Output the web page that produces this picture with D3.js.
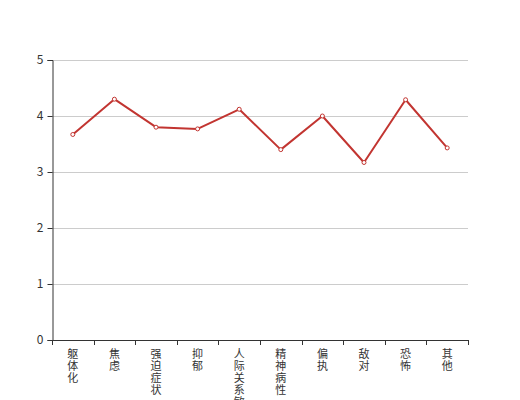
<!DOCTYPE html>
<html>
  <head>
    <meta charset="utf-8" />
    <script src="https://d3js.org/d3.v7.min.js"></script>
    <style>
      body { margin: 0; background: #fff; }
      text { font-family: "Noto Sans CJK SC", "Noto Sans", sans-serif; }
    </style>
  </head>
  <body>
    <script>
      // data
      const categories = ["躯体化", "焦虑", "强迫症状", "抑郁", "人际关系敏感", "精神病性", "偏执", "敌对", "恐怖", "其他"];
      const scores = [3.67, 4.30, 3.80, 3.77, 4.12, 3.40, 4.00, 3.17, 4.29, 3.43];
      const yTicks = [0, 1, 2, 3, 4, 5];

      const width = 520, height = 400;
      const margin = { top: 60, right: 52, bottom: 60, left: 52 };
      const lineColor = "#c23531";

      const svg = d3.select("body").append("svg")
        .attr("width", width)
        .attr("height", height);

      const x = d3.scaleBand()
        .domain(categories)
        .range([margin.left, width - margin.right]);

      const y = d3.scaleLinear()
        .domain([0, 5])
        .range([height - margin.bottom, margin.top]);

      // horizontal grid lines
      svg.append("g")
        .selectAll("line")
        .data(yTicks.filter(d => d > 0))
        .join("line")
        .attr("x1", margin.left)
        .attr("x2", width - margin.right)
        .attr("y1", d => y(d) + 0.5)
        .attr("y2", d => y(d) + 0.5)
        .attr("stroke", "#ccc");

      // y axis
      const yAxis = svg.append("g")
        .attr("transform", `translate(${margin.left + 0.5},0)`)
        .call(d3.axisLeft(y).tickValues(yTicks).tickFormat(d3.format("d")).tickSize(5).tickPadding(4));
      yAxis.select(".domain").attr("stroke", "#333");
      yAxis.selectAll(".tick line").attr("stroke", "#333");
      yAxis.selectAll(".tick text")
        .attr("fill", "#333")
        .style("font-size", "12px");

      // x axis line + ticks at band edges
      const xg = svg.append("g");
      xg.append("line")
        .attr("x1", margin.left)
        .attr("x2", width - margin.right + 0.5)
        .attr("y1", y(0) + 0.5)
        .attr("y2", y(0) + 0.5)
        .attr("stroke", "#333");
      const edges = categories.map(c => x(c)).concat([x.range()[1]]);
      xg.selectAll(".xtick")
        .data(edges)
        .join("line")
        .attr("class", "xtick")
        .attr("x1", d => Math.round(d) + 0.5)
        .attr("x2", d => Math.round(d) + 0.5)
        .attr("y1", y(0))
        .attr("y2", y(0) + 5)
        .attr("stroke", "#333");

      // vertical category labels, one character per line
      const labels = xg.selectAll(".xlabel")
        .data(categories)
        .join("text")
        .attr("class", "xlabel")
        .attr("fill", "#333")
        .style("font-size", "11px")
        .attr("text-anchor", "middle");
      labels.each(function (d) {
        const t = d3.select(this);
        Array.from(d).forEach((ch, i) => {
          t.append("tspan")
            .attr("x", x(d) + x.bandwidth() / 2)
            .attr("y", y(0) + 18 + i * 12)
            .text(ch);
        });
      });

      // line
      const line = d3.line()
        .x((d, i) => x(categories[i]) + x.bandwidth() / 2)
        .y(d => y(d));

      svg.append("path")
        .datum(scores)
        .attr("fill", "none")
        .attr("stroke", lineColor)
        .attr("stroke-width", 2)
        .attr("stroke-linejoin", "round")
        .attr("d", line);

      svg.append("g")
        .selectAll("circle")
        .data(scores)
        .join("circle")
        .attr("cx", (d, i) => x(categories[i]) + x.bandwidth() / 2)
        .attr("cy", d => y(d))
        .attr("r", 2)
        .attr("fill", "#fff")
        .attr("stroke", lineColor)
        .attr("stroke-width", 1);
    </script>
  </body>
</html>
